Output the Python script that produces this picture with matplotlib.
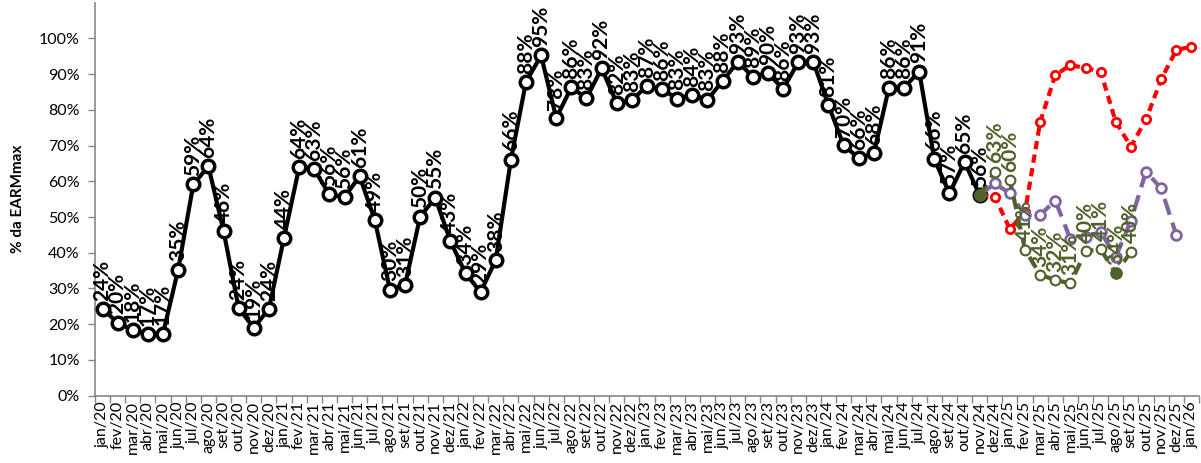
import numpy as np
import matplotlib
matplotlib.use("Agg")
from matplotlib import pyplot as plt
from matplotlib.ticker import PercentFormatter, FixedLocator

plt.rcParams['font.family'] = ['Lato', 'DejaVu Sans']

#   Categorias (meses)
Meses_Nome = ["jan", "fev", "mar", "abr", "mai", "jun", "jul", "ago", "set", "out", "nov", "dez"]
Meses = [m + "/" + a for a in ["20", "21", "22", "23", "24", "25"] for m in Meses_Nome] + ["jan/26"]

#   Historico (% EARMmax) jan/20 .. nov/24
Historico = [24.3, 20.4, 18.4, 17.2, 17.4, 35.3, 59.1, 64.2, 46.1, 24.5, 19.0, 24.3,
             44.2, 63.9, 63.3, 56.3, 55.6, 61.4, 49.2, 29.7, 31.0, 50.1, 55.4, 43.3,
             34.2, 29.0, 38.0, 66.0, 87.8, 95.2, 77.7, 86.3, 83.2, 91.6, 81.9, 82.7,
             86.7, 85.7, 83.1, 84.1, 82.8, 88.1, 93.4, 89.3, 90.3, 85.8, 93.3, 93.4,
             81.3, 70.1, 66.5, 67.8, 86.2, 86.2, 90.7, 66.2, 56.6, 65.4, 56.1]

#   Projecoes nov/24 .. jan/26
Inicio_Proj = "nov/24"
Verde = [56.1, 62.7, 60.3, 40.9, 33.8, 32.4, 31.4, 40.4, 41.0, 34.2, 40.3]
Vermelho = [56.1, 55.7, 46.6, 51.5, 76.6, 89.7, 92.5, 91.7, 90.7, 76.6, 69.7, 77.3, 88.5, 96.7, 97.7]
Roxo = [56.1, 59.4, 56.6, 50.6, 50.6, 54.6, 43.8, 44.5, 45.8, 38.9, 49.0, 62.7, 58.0, 45.0]
Verde_Cheio = ["nov/24", "ago/25"]

COR_VERDE = "#4F6228"
COR_VERMELHO = "#FF0000"
COR_ROXO = "#8064A2"
COR_EIXO = "#868686"


def Serie_X(Valores, Inicio):
    i0 = Meses.index(Inicio)
    return np.arange(i0, i0 + len(Valores)), np.array(Valores) / 100.0


def Rotulos(ax, x, y, cor):
    for xi, yi in zip(x, y):
        ax.annotate("%d%%" % round(yi * 100), (xi, yi), xytext=(0, 6), textcoords="offset points",
                    rotation=90, ha="center", va="bottom", fontsize=15, fontweight="bold",
                    color=cor, zorder=10)


def main():
    fig = plt.figure(figsize=(12.01, 4.63), dpi=100)
    ax = fig.add_axes([0.0791, 0.1454, 0.9192, 0.849])

    #   Historico
    xh, yh = Serie_X(Historico, "jan/20")
    ax.plot(xh, yh, color="black", lw=3, marker="o", ms=9, mfc="white", mec="black", mew=2.5, zorder=4)

    #   Projecao vermelha
    xr, yr = Serie_X(Vermelho, Inicio_Proj)
    ax.plot(xr, yr, color=COR_VERMELHO, lw=3, ls=(0, (2, 1.3)), marker="o", ms=6,
            mfc="white", mec=COR_VERMELHO, mew=2, zorder=5)

    #   Projecao roxa
    xp, yp = Serie_X(Roxo, Inicio_Proj)
    ax.plot(xp, yp, color=COR_ROXO, lw=3, ls=(0, (4, 2)), marker="o", ms=7,
            mfc="white", mec=COR_ROXO, mew=2, zorder=6)

    #   Projecao verde
    xv, yv = Serie_X(Verde, Inicio_Proj)
    ax.plot(xv, yv, color=COR_VERDE, lw=3, ls=(0, (3, 2)), marker="o", ms=7,
            mfc="white", mec=COR_VERDE, mew=1.5, zorder=7)
    Cheio = [Meses.index(m) - Meses.index(Inicio_Proj) for m in Verde_Cheio]
    ax.plot(xv[Cheio], yv[Cheio], ls="none", marker="o", ms=8, mfc=COR_VERDE, mec=COR_VERDE, zorder=8)

    Rotulos(ax, xh, yh, "black")
    Rotulos(ax, xv[1:], yv[1:], COR_VERDE)

    #   Eixos
    ax.set_xlim(-0.5, len(Meses) - 0.5)
    ax.set_ylim(0, 1.1)
    ax.set_yticks(np.arange(0, 1.01, 0.1))
    ax.yaxis.set_major_formatter(PercentFormatter(1.0, decimals=0))
    ax.xaxis.set_major_locator(FixedLocator(np.arange(-0.5, len(Meses), 1.0)))
    ax.xaxis.set_major_formatter(plt.NullFormatter())
    ax.set_xticks(np.arange(len(Meses)), minor=True)
    ax.set_xticklabels(Meses, minor=True, rotation=90, fontsize=11.5)
    ax.tick_params(axis="x", which="minor", length=0, pad=4)
    ax.tick_params(axis="x", which="major", length=5, color=COR_EIXO, width=1)
    ax.tick_params(axis="y", length=5, color=COR_EIXO, width=1, labelsize=11.5, pad=6)
    for s in ["top", "right"]:
        ax.spines[s].set_visible(False)
    for s in ["left", "bottom"]:
        ax.spines[s].set_color(COR_EIXO)
        ax.spines[s].set_linewidth(1.2)
    ax.set_ylabel("% da EARMmax", fontsize=11, fontweight="bold", labelpad=10)

    fig.savefig("out.png", dpi=100)


if __name__ == "__main__":
    main()
